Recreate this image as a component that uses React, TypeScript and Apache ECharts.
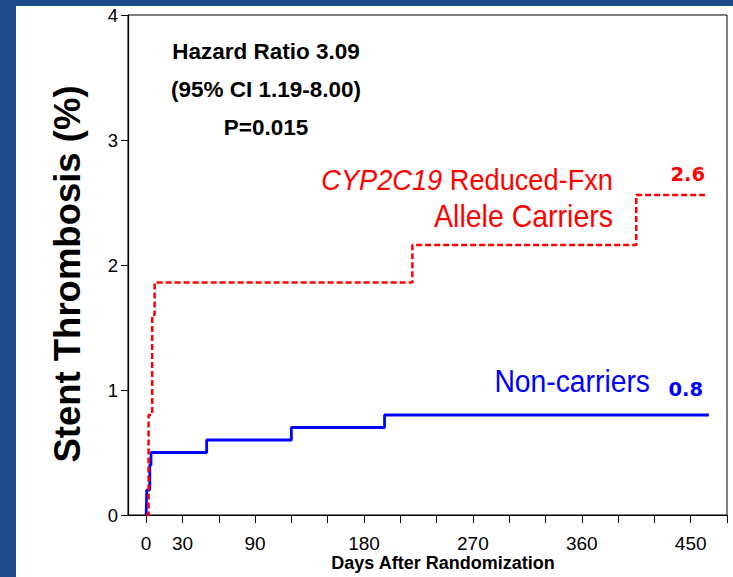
import React, { useEffect, useRef } from "react";
import * as echarts from "echarts";

const carrierDays = [0, 2, 5, 7, 220, 405, 463];
const carrierRates = [0, 0.8, 1.6, 1.86, 2.16, 2.56, 2.56];
const nonCarrierDays = [0, 0.5, 3, 4, 50, 120, 197, 465];
const nonCarrierRates = [0, 0.2, 0.4, 0.5, 0.6, 0.7, 0.8, 0.8];
const xTickValues = [0, 30, 60, 90, 120, 150, 180, 210, 240, 270, 300, 330, 360, 390, 420, 450, 480];
const xLabelValues = [0, 30, 90, 180, 270, 360, 450];
const statsLines = ["Hazard Ratio 3.09", "(95% CI 1.19-8.00)", "P=0.015"];
const carrierEndLabel = "2.6";
const nonCarrierEndLabel = "0.8";

const FONT = '"Liberation Sans", Arial, sans-serif';
const BOLD_NUM_FONT = '"DejaVu Sans", Verdana, sans-serif';

export default function App() {
  const ref = useRef<HTMLDivElement>(null);
  useEffect(() => {
    if (!ref.current) return;
    const chart = echarts.init(ref.current, undefined, { renderer: "svg" });
    const border = "#1c4a8b";
    chart.setOption({
      animation: false,
      backgroundColor: "#ffffff",
      grid: {
        left: 128,
        right: 6,
        top: 15,
        bottom: 62,
        show: true,
        borderColor: "#000",
        borderWidth: 1,
        backgroundColor: "transparent",
      },
      xAxis: {
        type: "value",
        min: -15,
        max: 480,
        splitLine: { show: false },
        axisLine: { onZero: false, lineStyle: { color: "#000", width: 1 } },
        axisTick: {
          show: true,
          length: 8,
          customValues: xTickValues,
          lineStyle: { color: "#000" },
        },
        axisLabel: {
          customValues: xLabelValues,
          color: "#000",
          fontSize: 19,
          fontFamily: FONT,
          margin: 19,
        },
      },
      yAxis: {
        type: "value",
        min: 0,
        max: 4,
        interval: 1,
        splitLine: { show: false },
        axisLine: { show: true, onZero: false, lineStyle: { color: "#000", width: 1.2 } },
        axisTick: { show: true, length: 7, lineStyle: { color: "#000" } },
        axisLabel: { color: "#000", fontSize: 18.5, fontFamily: FONT, margin: 10 },
      },
      series: [
        {
          name: "Non-carriers",
          type: "line",
          step: "end",
          showSymbol: false,
          data: nonCarrierDays.map((d, i) => [d, nonCarrierRates[i]]),
          lineStyle: { color: "#0000ff", width: 2.8 },
          z: 3,
        },
        {
          name: "Carriers",
          type: "line",
          step: "end",
          showSymbol: false,
          data: carrierDays.map((d, i) => [d, carrierRates[i]]),
          lineStyle: { color: "#ff0000", width: 2.5, type: [6, 3] },
          z: 4,
        },
      ],
      graphic: [
        { type: "rect", shape: { x: 0, y: 0, width: 733, height: 6 }, style: { fill: border }, z: 100 },
        { type: "rect", shape: { x: 0, y: 0, width: 16, height: 577 }, style: { fill: border }, z: 100 },
        {
          type: "text",
          x: 67,
          y: 274,
          rotation: Math.PI / 2,
          style: {
            text: "Stent Thrombosis (%)",
            fill: "#000",
            fontSize: 36.5,
            fontWeight: "bold",
            fontFamily: FONT,
            align: "center",
            verticalAlign: "middle",
          },
        },
        ...statsLines.map((t, i) => ({
          type: "text",
          x: 266,
          y: 51 + i * 38,
          style: {
            text: t,
            fill: "#000",
            fontSize: 22.5,
            fontWeight: "bold",
            fontFamily: FONT,
            align: "center",
            verticalAlign: "middle",
          },
        })),
        {
          type: "text",
          x: 613,
          y: 180,
          scaleY: 1.08,
          style: {
            text: "{i|CYP2C19}{r| Reduced-Fxn}",
            align: "right",
            verticalAlign: "middle",
            fill: "#ff0000",
            fontSize: 27.2,
            fontFamily: FONT,
            rich: {
              i: { fontStyle: "italic", fontSize: 27.2, fontFamily: FONT, fill: "#ff0000" },
              r: { fontSize: 27.2, fontFamily: FONT, fill: "#ff0000" },
            },
          },
        },
        {
          type: "text",
          x: 613,
          y: 216,
          scaleY: 1.08,
          style: {
            text: "Allele Carriers",
            align: "right",
            verticalAlign: "middle",
            fill: "#ff0000",
            fontSize: 28.5,
            fontFamily: FONT,
          },
        },
        {
          type: "text",
          x: 650,
          y: 381,
          scaleY: 1.08,
          style: {
            text: "Non-carriers",
            align: "right",
            verticalAlign: "middle",
            fill: "#0000ff",
            fontSize: 28.3,
            fontFamily: FONT,
          },
        },
        {
          type: "text",
          x: 705,
          y: 174,
          style: {
            text: carrierEndLabel,
            align: "right",
            verticalAlign: "middle",
            fill: "#ff0000",
            fontSize: 19.5,
            fontWeight: "bold",
            fontFamily: BOLD_NUM_FONT,
          },
        },
        {
          type: "text",
          x: 703,
          y: 389,
          style: {
            text: nonCarrierEndLabel,
            align: "right",
            verticalAlign: "middle",
            fill: "#0000ff",
            fontSize: 19.5,
            fontWeight: "bold",
            fontFamily: BOLD_NUM_FONT,
          },
        },
        {
          type: "text",
          x: 443,
          y: 563,
          style: {
            text: "Days After Randomization",
            align: "center",
            verticalAlign: "middle",
            fill: "#000",
            fontSize: 18,
            fontWeight: "bold",
            fontFamily: FONT,
          },
        },
      ],
    });
    return () => chart.dispose();
  }, []);
  return (
    <div style={{ position: "absolute", left: 0, top: 0, width: 733, height: 577 }}>
      <div ref={ref} style={{ width: 733, height: 577 }} />
    </div>
  );
}
